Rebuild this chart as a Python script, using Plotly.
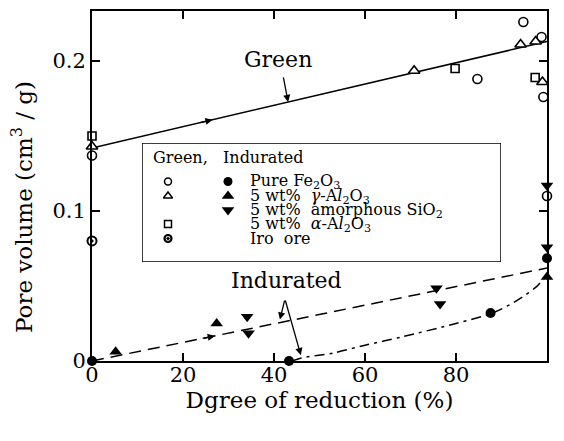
import numpy as np
import plotly.graph_objects as go

# Green (unfired) pellets: degree of reduction (%) vs pore volume (cm3/g)
green_fe2o3_x = [0, 84.7, 94.8, 98.8, 99.2, 100]
green_fe2o3_y = [0.137, 0.188, 0.226, 0.216, 0.176, 0.110]
green_gamma_x = [0, 70.8, 94.2, 97.5, 99.0]
green_gamma_y = [0.143, 0.1935, 0.211, 0.213, 0.186]
green_alpha_x = [0, 79.8, 97.4]
green_alpha_y = [0.150, 0.195, 0.189]
green_ore_x = [0]
green_ore_y = [0.080]

# Indurated pellets
ind_fe2o3_x = [0, 43.3, 87.6, 100]
ind_fe2o3_y = [0, 0, 0.032, 0.0685]
ind_gamma_x = [5.2, 27.4, 100]
ind_gamma_y = [0.0062, 0.025, 0.056]
ind_sio2_x = [34.1, 34.4, 75.7, 76.5, 100, 100]
ind_sio2_y = [0.0295, 0.0185, 0.0485, 0.038, 0.117, 0.0758]

# Trend lines
green_line_x = [0, 100]
green_line_y = [0.142, 0.213]
ind_line_x = [0, 100]
ind_line_y = [0, 0.062]
ind_curve_x = [44, 46, 53, 60, 68, 80, 88, 93, 97.7, 100]
ind_curve_y = [0, 0.002, 0.0053, 0.0105, 0.016, 0.025, 0.032, 0.0396, 0.0496, 0.058]

x_ticks = [0, 20, 40, 60, 80, 100]
y_ticks = [0, 0.1, 0.2]
y_tick_text = ["0", "0.1", "0.2"]

FONT = "DejaVu Serif"
BLACK = "black"

fig = go.Figure()

# trend lines
fig.add_trace(go.Scatter(x=green_line_x, y=green_line_y, mode="lines",
                         line=dict(color=BLACK, width=1.5)))
fig.add_trace(go.Scatter(x=ind_line_x, y=ind_line_y, mode="lines",
                         line=dict(color=BLACK, width=1.5, dash="12px,7px")))
fig.add_trace(go.Scatter(x=ind_curve_x, y=ind_curve_y, mode="lines",
                         line=dict(color=BLACK, width=1.5, dash="10px,5px,3px,5px",
                                   shape="spline", smoothing=0.8)))


def pts(x, y, symbol, size, fill, lw=1.6):
    fig.add_trace(go.Scatter(
        x=x, y=y, mode="markers", cliponaxis=False,
        marker=dict(symbol=symbol, size=size, color=fill,
                    line=dict(color=BLACK, width=lw))))


# green pellets (open symbols)
pts(green_fe2o3_x, green_fe2o3_y, "circle", 9, "white")
pts(green_gamma_x, green_gamma_y, "triangle-up", 10, "white")
pts(green_alpha_x, green_alpha_y, "square", 8, "white")
pts(green_ore_x, green_ore_y, "circle-open-dot", 9, BLACK, lw=2)

# indurated pellets (filled symbols)
pts(ind_fe2o3_x, ind_fe2o3_y, "circle", 10, BLACK, lw=0)
pts(ind_gamma_x, ind_gamma_y, "triangle-up", 11, BLACK, lw=0)
pts(ind_sio2_x, ind_sio2_y, "triangle-down", 11, BLACK, lw=0)


def on_line(xs, ys, x):
    return float(np.interp(x, xs, ys))


annotations = []


def arrow(xh, yh, xt, yt):
    annotations.append(dict(
        x=xh, y=yh, ax=xt, ay=yt, xref="x", yref="y", axref="x", ayref="y",
        text="", showarrow=True, arrowhead=2, arrowsize=1.1, arrowwidth=1.3,
        arrowcolor=BLACK, standoff=0, startstandoff=0))


# direction arrows along the lines
arrow(26.5, on_line(green_line_x, green_line_y, 26.5),
      23.5, on_line(green_line_x, green_line_y, 23.5))
arrow(27.0, on_line(ind_line_x, ind_line_y, 27.0),
      24.0, on_line(ind_line_x, ind_line_y, 24.0))

# labels with pointers
annotations.append(dict(x=40.9, y=0.2007, xref="x", yref="y", text="Green",
                        showarrow=False, font=dict(family=FONT, size=22, color=BLACK)))
arrow(43.1, on_line(green_line_x, green_line_y, 43.1), 42.0, 0.190)

annotations.append(dict(x=42.8, y=0.0535, xref="x", yref="y", text="Indurated",
                        showarrow=False, font=dict(family=FONT, size=22, color=BLACK)))
arrow(41.3, on_line(ind_line_x, ind_line_y, 41.3) + 0.002, 42.4, 0.0413)
arrow(45.9, on_line(ind_curve_x, ind_curve_y, 45.9) + 0.002, 42.4, 0.0413)

# legend panel drawn on an overlay axis measured in pixels
LX0, LX1, LY0, LY1 = 142, 501, 143, 262
PX0, PX1, PY0, PY1 = 92, 547, 11, 361
leg_dom_x = [(LX0 - PX0) / (PX1 - PX0), (LX1 - PX0) / (PX1 - PX0)]
leg_dom_y = [(PY1 - LY1) / (PY1 - PY0), (PY1 - LY0) / (PY1 - PY0)]

leg_rows = [181.5, 196, 210, 224, 238.5]
leg_text = [
    "Pure Fe<sub>2</sub>O<sub>3</sub>",
    "5 wt%  <i>γ</i>-A<i>l</i><sub>2</sub>O<sub>3</sub>",
    "5 wt%  amorphous SiO<sub>2</sub>",
    "5 wt%  <i>α</i>-A<i>l</i><sub>2</sub>O<sub>3</sub>",
    "Iro  ore",
]
open_keys = [("circle", 7, "white", 1.5, 0), ("triangle-up", 8, "white", 1.5, 1),
             ("square", 7, "white", 1.5, 3), ("circle-open-dot", 7, BLACK, 2.2, 4)]
filled_keys = [("circle", 9, 0), ("triangle-up", 11, 1), ("triangle-down", 11, 2)]

for sym, size, fill, lw, row in open_keys:
    fig.add_trace(go.Scatter(x=[168], y=[leg_rows[row]], xaxis="x2", yaxis="y2",
                             mode="markers", cliponaxis=False,
                             marker=dict(symbol=sym, size=size, color=fill,
                                         line=dict(color=BLACK, width=lw))))
for sym, size, row in filled_keys:
    fig.add_trace(go.Scatter(x=[228], y=[leg_rows[row]], xaxis="x2", yaxis="y2",
                             mode="markers", cliponaxis=False,
                             marker=dict(symbol=sym, size=size, color=BLACK,
                                         line=dict(width=0))))

leg_font = dict(family=FONT, size=16, color=BLACK)
annotations.append(dict(x=151, y=157, xref="x2", yref="y2", text="Green,",
                        xanchor="left", yanchor="middle", showarrow=False, font=leg_font))
annotations.append(dict(x=221, y=157, xref="x2", yref="y2", text="Indurated",
                        xanchor="left", yanchor="middle", showarrow=False, font=leg_font))
for row_y, txt in zip(leg_rows, leg_text):
    annotations.append(dict(x=248, y=row_y, xref="x2", yref="y2", text=txt,
                            xanchor="left", yanchor="middle", showarrow=False,
                            font=leg_font))

# y-axis title placed explicitly beside the axis
annotations.append(dict(x=(22 - PX0) / (PX1 - PX0), y=(PY1 - 207) / (PY1 - PY0),
                        xref="paper", yref="paper", text="Pore volume (cm<sup>3</sup> / g)",
                        textangle=-90, showarrow=False, xanchor="center",
                        yanchor="middle", font=dict(family=FONT, size=23, color=BLACK)))

fig.update_layout(
    width=564, height=441,
    margin=dict(l=PX0, r=564 - PX1, t=PY0, b=441 - PY1, pad=0),
    paper_bgcolor="white", plot_bgcolor="white",
    showlegend=False,
    font=dict(family=FONT, color=BLACK, size=20),
    annotations=annotations,
    shapes=[dict(type="rect", xref="x2", yref="y2", x0=LX0, x1=LX1, y0=LY0, y1=LY1,
                 line=dict(color=BLACK, width=1.5), fillcolor="white", layer="below")],
    xaxis=dict(range=[0, 100], tickvals=x_ticks, ticks="inside", ticklen=8,
               tickwidth=1.5, tickcolor=BLACK, showline=True, linewidth=2,
               linecolor=BLACK, mirror="ticks", showgrid=False, zeroline=False,
               tickfont=dict(size=21), automargin=False, ticklabelstandoff=-6,
               title=dict(text="Dgree of reduction (%)", font=dict(size=23), standoff=4)),
    yaxis=dict(range=[0, 0.2333], tickvals=y_ticks, ticktext=y_tick_text,
               ticks="inside", ticklen=8, tickwidth=1.5, tickcolor=BLACK,
               showline=True, linewidth=2, linecolor=BLACK, mirror="ticks",
               showgrid=False, zeroline=False, tickfont=dict(size=21),
               automargin=False, ticklabelstandoff=0),
    xaxis2=dict(domain=leg_dom_x, range=[LX0, LX1], anchor="y2", visible=False,
                fixedrange=True),
    yaxis2=dict(domain=leg_dom_y, range=[LY1, LY0], anchor="x2", visible=False,
                fixedrange=True),
)

fig.write_html("out.html")
